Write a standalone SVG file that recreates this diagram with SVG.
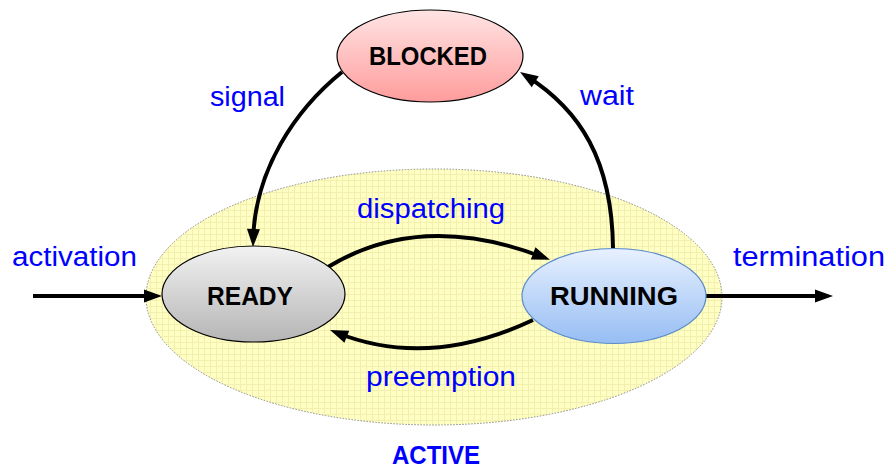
<svg xmlns="http://www.w3.org/2000/svg" width="890" height="470" viewBox="0 0 890 470">
  <defs>
    <style>
      .lbl { font-family: "Liberation Sans", Arial, sans-serif; font-size: 27px; fill: #0000ff; }
      .node-txt { font-family: "Liberation Sans", Arial, sans-serif; font-size: 25px; font-weight: bold; fill: #000; text-anchor: middle; }
      .conn { fill: none; stroke: #000; stroke-width: 4; marker-end: url(#arrow); }
      .node-shape { stroke-width: 1.2; }
    </style>
    <marker id="arrow" markerUnits="userSpaceOnUse" markerWidth="20" markerHeight="14" refX="10" refY="0" orient="auto" overflow="visible">
      <path d="M0,-6.5 L18,0 L0,6.5 z" fill="#000"/>
    </marker>
    <linearGradient id="gBlocked" x1="0" y1="0" x2="0" y2="1">
      <stop offset="0" stop-color="#ffe4e4"/>
      <stop offset="1" stop-color="#ff9c9c"/>
    </linearGradient>
    <linearGradient id="gReady" x1="0" y1="0" x2="0" y2="1">
      <stop offset="0" stop-color="#f2f2f2"/>
      <stop offset="1" stop-color="#b5b5b5"/>
    </linearGradient>
    <linearGradient id="gRunning" x1="0" y1="0" x2="0" y2="1">
      <stop offset="0" stop-color="#e8f1ff"/>
      <stop offset="1" stop-color="#96bdf3"/>
    </linearGradient>
    <pattern id="grid" patternUnits="userSpaceOnUse" width="6" height="6">
      <rect width="6" height="6" fill="#ffffc4"/>
      <path d="M0,0.5 H6 M0.5,0 V6" stroke="#f3efae" stroke-width="1"/>
    </pattern>
  </defs>

  <g id="active">
    <ellipse cx="434" cy="297" rx="288" ry="128" fill="url(#grid)" stroke="#8a8a8a" stroke-width="1" stroke-dasharray="1.5 1.5"/>
    <text class="node-txt" x="436" y="464" style="fill:#0000ff; font-size:26px" textLength="88" lengthAdjust="spacingAndGlyphs">ACTIVE</text>
  </g>

  <g id="connectors">
    <path class="conn" d="M33,296 L154,296"/>
    <path class="conn" d="M706,296 L825,296"/>
    <path class="conn" d="M328,267 Q421,210.5 542.5,257"/>
    <path class="conn" d="M533,320 Q428.5,369 337.5,333"/>
    <path class="conn" d="M342,72 C295,110 255,170 253.2,239"/>
    <path class="conn" d="M613,248 C612,160 580,110 526.8,76.3"/>
    <text class="lbl" x="12" y="266" textLength="125" lengthAdjust="spacingAndGlyphs">activation</text>
    <text class="lbl" x="733" y="266" textLength="152" lengthAdjust="spacingAndGlyphs">termination</text>
    <text class="lbl" x="210" y="106" textLength="75" lengthAdjust="spacingAndGlyphs">signal</text>
    <text class="lbl" x="580" y="105" textLength="54" lengthAdjust="spacingAndGlyphs">wait</text>
    <text class="lbl" x="357" y="218" textLength="148" lengthAdjust="spacingAndGlyphs">dispatching</text>
    <text class="lbl" x="366" y="386" textLength="150" lengthAdjust="spacingAndGlyphs">preemption</text>
  </g>

  <g id="blocked">
    <ellipse class="node-shape" cx="430" cy="56" rx="93" ry="46" fill="url(#gBlocked)" stroke="#000"/>
    <text class="node-txt" x="428" y="65" textLength="118" lengthAdjust="spacingAndGlyphs">BLOCKED</text>
  </g>

  <g id="ready">
    <ellipse class="node-shape" cx="253.5" cy="294" rx="91.5" ry="48" fill="url(#gReady)" stroke="#000"/>
    <text class="node-txt" x="250" y="305" textLength="86" lengthAdjust="spacingAndGlyphs">READY</text>
  </g>

  <g id="running">
    <ellipse class="node-shape" cx="614" cy="296" rx="92" ry="47.5" fill="url(#gRunning)" stroke="#5b8cc8"/>
    <text class="node-txt" x="614" y="305" textLength="128" lengthAdjust="spacingAndGlyphs">RUNNING</text>
  </g>
</svg>
